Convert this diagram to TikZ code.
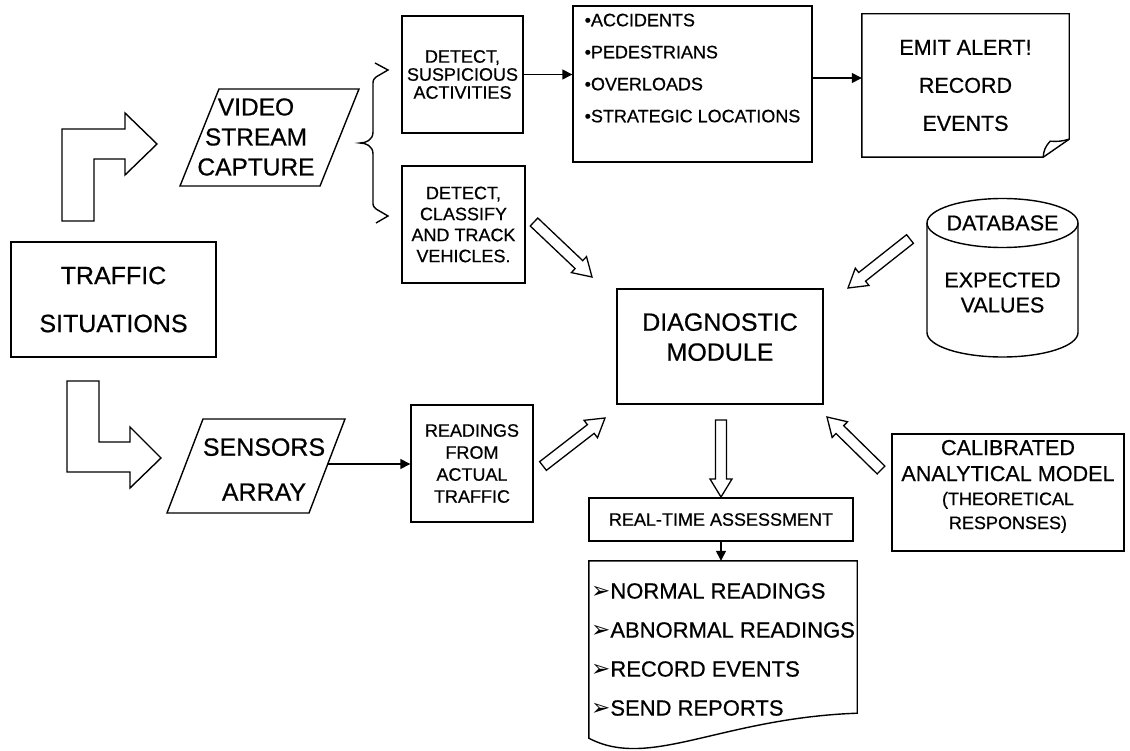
\documentclass[tikz,border=0pt]{standalone}
\usepackage{fontspec}
\setmainfont[FakeBold=0.6]{Liberation Sans}
\newfontfamily\dingfont{DejaVu Sans}
\usetikzlibrary{arrows.meta,calc}

% open block arrow from #1 (tail) to #2 (tip)
\newcommand{\hollowarrow}[2]{%
  \coordinate (hb) at ($(#2)!18pt!(#1)$);
  \draw[hollowline] ($(#1)!5.5pt!90:(#2)$) -- ($(hb)!5.5pt!90:(#2)$) -- ($(hb)!11pt!90:(#2)$) -- (#2)
    -- ($(hb)!11pt!-90:(#2)$) -- ($(hb)!5.5pt!-90:(#2)$) -- ($(#1)!5.5pt!-90:(#2)$) -- cycle;
}
\newcommand{\listarrow}{\raisebox{0.5pt}{\dingfont\fontsize{23}{23}\selectfont ➢}}

\begin{document}
\begin{tikzpicture}[x=1pt,y=-1pt,>={Triangle[length=10pt,width=10pt]}]
 \tikzstyle{procbox}=[draw,rectangle,line width=1.4pt,inner sep=2pt,align=center]
 \tikzstyle{txt}=[inner sep=0pt,align=center]
 \tikzstyle{outline}=[line width=1.4pt,line join=miter]
 \tikzstyle{hollowline}=[draw,line width=1.3pt,fill=white,line join=miter]
 \tikzstyle{link}=[->,line width=1.4pt]
 \useasboundingbox (0,0) rectangle (1130,751);

 % source and the two bent arrows
 \node[procbox,minimum width=205pt,minimum height=115pt,font=\fontsize{25}{48}\selectfont] (traffic) at (113.5,299.5) {TRAFFIC\\SITUATIONS};
 \draw[outline] (62,221) -- (62,129) -- (125,129) -- (125,113) -- (157,144) -- (125,175) -- (125,159) -- (94,159) -- (94,221) -- cycle;
 \draw[outline] (67,381) -- (99,381) -- (99,442) -- (130,442) -- (130,427) -- (161,458) -- (130,488) -- (130,472) -- (67,472) -- cycle;

 % video branch
 \draw[outline] (219,89) -- (359,89) -- (320,186) -- (180,186) -- cycle;
 \node[txt,font=\fontsize{24.5}{30}\selectfont] (video) at (256,137) {VIDEO\\STREAM\\CAPTURE};
 \draw[outline] (375,63) -- (388,70) -- (376,77) .. controls (373,80) .. (373,86) -- (373,132)
   .. controls (373,140) and (366,143) .. (360,143) .. controls (366,143) and (373,146) .. (373,154)
   -- (373,201) .. controls (373,206) .. (376,209) -- (388,216) -- (376,223);
 \node[procbox,minimum width=121pt,minimum height=117pt,font=\fontsize{18}{18}\selectfont] (suspect) at (462.5,74.5) {DETECT,\\SUSPICIOUS\\ACTIVITIES};
 \node[procbox,minimum width=123pt,minimum height=117pt,font=\fontsize{18}{21}\selectfont] (classify) at (463.5,224.5) {DETECT,\\CLASSIFY\\AND TRACK\\VEHICLES.};
 \node[procbox,align=left,minimum width=239pt,minimum height=156pt,font=\fontsize{18}{32}\selectfont] (events) at (692.5,84) {•ACCIDENTS\\•PEDESTRIANS\\•OVERLOADS\\•STRATEGIC LOCATIONS\\ \mbox{}};
 \node[txt,minimum width=207pt,minimum height=143pt,font=\fontsize{21.5}{38}\selectfont] (alert) at (965.5,85.5) {EMIT ALERT!\\RECORD\\EVENTS};
 \draw[outline] (alert.north west) -- (alert.north east) -- ([yshift=18pt]alert.south east) -- ([xshift=-26pt]alert.south east) -- (alert.south west) -- cycle;
 \draw[outline] ([xshift=-26pt]alert.south east) to[bend left=20] ([xshift=-19pt,yshift=16pt]alert.south east) to[bend right=10] ([yshift=18pt]alert.south east);
 \draw[link] (suspect.east) -- (suspect.east -| events.west);
 \draw[link] ([yshift=6pt]events.east) -- ([yshift=6pt]events.east -| alert.west);

 % sensors branch
 \draw[outline] (203,419) -- (345,419) -- (309,513) -- (167,513) -- cycle;
 \node[txt,font=\fontsize{25}{45}\selectfont] (sensors) at (264,469.5) {SENSORS\\ARRAY};
 \coordinate (sensorsout) at (328,464);
 \node[procbox,minimum width=122pt,minimum height=117pt,font=\fontsize{18}{22}\selectfont] (readings) at (472,463.5) {READINGS\\FROM\\ACTUAL\\TRAFFIC};
 \draw[link] (sensorsout) -- (sensorsout -| readings.west);

 % diagnostic module
 \node[procbox,minimum width=206pt,minimum height=115pt,font=\fontsize{25}{30}\selectfont] (diag) at (720,346.5) {DIAGNOSTIC\\MODULE\\[-11pt]\mbox{}};

 % database cylinder
 \draw[outline] (927,223) -- (927,332.5) arc[start angle=180,end angle=360,x radius=75.5pt,y radius=24.5pt] -- (1078,223);
 \draw[outline] (1002.5,223) ellipse [x radius=75.5pt,y radius=24.5pt];
 \node[txt,font=\fontsize{21.6}{25}\selectfont] (dbname) at (1002.5,223) {DATABASE};
 \node[txt,font=\fontsize{21.6}{25}\selectfont] (dbvalues) at (1002.5,292.5) {EXPECTED\\VALUES};

 \node[procbox,minimum width=232pt,minimum height=117pt,font=\fontsize{21.6}{26}\selectfont] (calib) at (1008,492.5)
   {CALIBRATED\\ANALYTICAL MODEL\\[-2pt]{\fontsize{18}{18}\selectfont (THEORETICAL}\\[-2pt]{\fontsize{18}{18}\selectfont RESPONSES)}\\[-10pt]\mbox{}};

 % outputs
 \node[procbox,minimum width=264pt,minimum height=43pt,font=\fontsize{18}{20}\selectfont] (realtime) at (721,519.5) {REAL-TIME ASSESSMENT};
 \node[txt,align=left,minimum width=268pt,minimum height=177pt,font=\fontsize{22}{39}\selectfont] (report) at (723,649.5)
   {\listarrow NORMAL READINGS\\\listarrow ABNORMAL READINGS\\\listarrow RECORD EVENTS\\\listarrow SEND REPORTS};
 \draw[outline] (report.north west) -- (report.north east) -- ([yshift=25pt]report.south east)
   .. controls ([xshift=-137pt,yshift=20pt]report.south east) and ([xshift=61pt,yshift=-32pt]report.south west) .. (report.south west) -- cycle;
 \draw[link] (realtime.south) -- (realtime.south |- report.north);

 % open arrows into and out of the module
 \coordinate (clsA) at (534,222);  \coordinate (clsB) at (592,277);
 \coordinate (rdA) at (543,466);   \coordinate (rdB) at (605,418);
 \coordinate (dbA) at (910,239);   \coordinate (dbB) at (848,288);
 \coordinate (calA) at (881,470);  \coordinate (calB) at (827,417);
 \coordinate (dgA) at (721,420);   \coordinate (dgB) at (721,497);
 \hollowarrow{clsA}{clsB}
 \hollowarrow{rdA}{rdB}
 \hollowarrow{dbA}{dbB}
 \hollowarrow{calA}{calB}
 \hollowarrow{dgA}{dgB}
\end{tikzpicture}
\end{document}
